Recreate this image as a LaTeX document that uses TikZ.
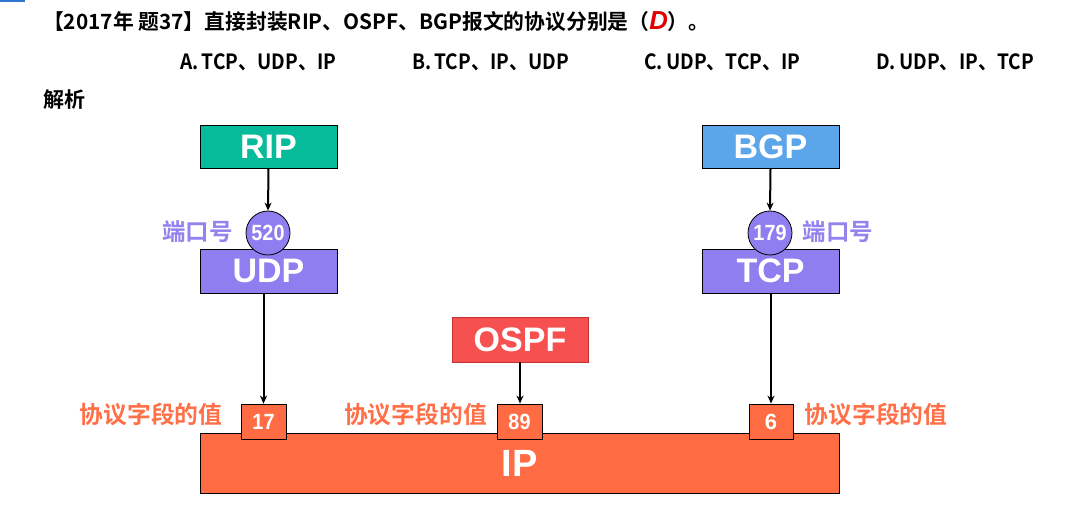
\documentclass[tikz,border=0pt]{standalone}
\usepackage{fontspec}
\setmainfont{Liberation Sans}
\newfontfamily\cjk{Noto Sans CJK SC}[BoldFont={Noto Sans CJK SC Bold}]
\usetikzlibrary{arrows.meta}
\definecolor{ripgreen}{HTML}{06BB9A}
\definecolor{bgpblue}{HTML}{5BA6EB}
\definecolor{purp}{HTML}{8E7EEF}
\definecolor{purplbl}{HTML}{9483EE}
\definecolor{ospfred}{HTML}{F75050}
\definecolor{ipor}{HTML}{FF6C44}
\definecolor{orlbl}{HTML}{FF7048}
\definecolor{barblue}{HTML}{2F75D0}
\definecolor{titred}{HTML}{E00000}
\tikzset{
  proto/.style={draw=black, line width=0.8pt, text=white, inner sep=0pt,
    font=\fontsize{34}{34}\selectfont\bfseries, minimum width=137pt, minimum height=43pt},
  port/.style={circle, draw=black, line width=0.8pt, fill=purp, text=white, inner sep=0pt,
    minimum size=44pt, font=\fontsize{22}{22}\selectfont\bfseries},
  field/.style={draw=black, line width=0.8pt, fill=ipor, text=white, inner sep=0pt,
    minimum width=45pt, minimum height=35pt, font=\fontsize{22}{22}\selectfont\bfseries},
  portlbl/.style={text=purplbl, inner sep=0pt, font=\cjk\fontsize{23.5}{23.5}\selectfont\bfseries},
  fieldlbl/.style={text=orlbl, inner sep=0pt, font=\cjk\fontsize{23.8}{23.8}\selectfont\bfseries},
  conn/.style={line width=2pt, -{Stealth[length=8pt,width=7pt]}},
  qtext/.style={inner sep=0pt, anchor=west, font=\cjk\fontsize{21}{21}\selectfont\bfseries}
}
\begin{document}
\begin{tikzpicture}[x=1pt,y=-1pt]
\useasboundingbox (0,0) rectangle (1070,510);
\fill[barblue] (0,0) rectangle (25,2.5);
% title and options
\node[qtext] (title) at (43,22) {\scalebox{0.99}[1]{【2017年 题37】直接封装RIP、OSPF、BGP报文的协议分别是（{\rmfamily\fontsize{26}{26}\selectfont\bfseries\itshape\color{titred}D}）。}};
\node[qtext] (optA) at (180,62) {\scalebox{0.91}[1]{A.\,TCP、UDP、IP}};
\node[qtext] (optB) at (412,62) {\scalebox{0.91}[1]{B.\,TCP、IP、UDP}};
\node[qtext] (optC) at (644,62) {\scalebox{0.91}[1]{C.\,UDP、TCP、IP}};
\node[qtext] (optD) at (876,62) {\scalebox{0.91}[1]{D.\,UDP、IP、TCP}};
\node[qtext] (jx) at (43,100) {解析};
% protocol boxes
\node[proto, fill=ripgreen] (rip) at (268.5,147) {RIP};
\node[proto, fill=bgpblue] (bgp) at (770.5,147) {BGP};
\node[proto, fill=purp, minimum height=44pt] (udp) at (268.5,271) {UDP};
\node[proto, fill=purp, minimum height=44pt] (tcp) at (770.5,271) {TCP};
\node[proto, fill=ospfred, draw={rgb,255:red,190;green,50;blue,50}, minimum width=136pt, minimum height=45pt] (ospf) at (520,339.5) {OSPF};
\node[port] (p520) at (268,233) {\scalebox{0.9}[1]{520}};
\node[port] (p179) at (770,233) {\scalebox{0.9}[1]{179}};
% IP
\node[proto, fill=ipor, minimum width=639pt, minimum height=60pt, font=\fontsize{38}{38}\selectfont\bfseries, text depth=0pt] (ip) at (519.5,463) {IP};
\node[field] (f17) at (263.5,421.5) {\scalebox{0.9}[1]{17}};
\node[field] (f89) at (519.5,421.5) {\scalebox{0.9}[1]{89}};
\node[field, minimum width=44pt] (f6) at (771,421.5) {6};
% labels
\node[portlbl] (lp1) at (197.5,232) {端口号};
\node[portlbl] (lp2) at (838,232) {端口号};
\node[fieldlbl] (lf1) at (151,414) {协议字段的值};
\node[fieldlbl] (lf2) at (415.5,414) {协议字段的值};
\node[fieldlbl] (lf3) at (876,414) {协议字段的值};
% connectors
\draw[conn] (rip.south) -- (p520.north);
\draw[conn] (bgp.south) -- (p179.north);
\draw[conn] (udp.south -| f17.north) -- (f17.north);
\draw[conn] (tcp.south -| f6.north) -- (f6.north);
\draw[conn] (ospf.south) -- (ospf.south |- f89.north);
\end{tikzpicture}
\end{document}
